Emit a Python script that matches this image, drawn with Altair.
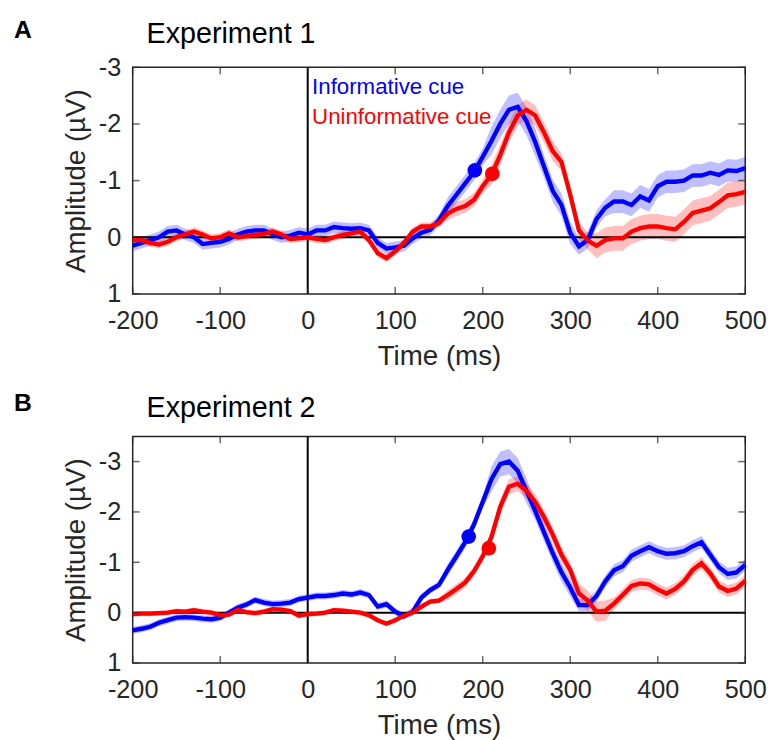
import altair as alt
import pandas as pd

# ---------------- data ----------------
time_ms = [-200, -190, -180, -170, -160, -150, -140, -130, -120, -110,
           -100, -90, -80, -70, -60, -50, -40, -30, -20, -10,
           0, 10, 20, 30, 40, 50, 60, 70, 80, 90,
           100, 110, 120, 130, 140, 150, 160, 170, 180, 190,
           200, 210, 220, 230, 240, 250, 260, 270, 280, 290,
           300, 310, 320, 330, 340, 350, 360, 370, 380, 390,
           400, 410, 420, 430, 440, 450, 460, 470, 480, 490,
           500]

exp1_info = [0.15, 0.10, 0.05, 0.00, -0.10, -0.12, -0.05, 0.00, 0.12, 0.10,
             0.08, 0.03, -0.05, -0.10, -0.12, -0.12, -0.05, 0.00, -0.03, -0.08,
             -0.05, -0.12, -0.12, -0.18, -0.16, -0.15, -0.16, -0.12, 0.10, 0.20,
             0.18, 0.15, 0.02, -0.08, -0.13, -0.30, -0.55, -0.75, -0.95, -1.15,
             -1.42, -1.70, -2.00, -2.25, -2.30, -2.05, -1.68, -1.25, -0.82, -0.57,
             -0.08, 0.16, 0.05, -0.32, -0.52, -0.63, -0.63, -0.57, -0.72, -0.65,
             -0.90, -0.98, -0.98, -1.00, -1.09, -1.09, -1.14, -1.10, -1.18, -1.17,
             -1.22]
exp1_info_sem = [0.10, 0.10, 0.10, 0.10, 0.10, 0.10, 0.10, 0.10, 0.10, 0.10,
                 0.10, 0.10, 0.10, 0.10, 0.10, 0.10, 0.10, 0.10, 0.10, 0.10,
                 0.10, 0.10, 0.10, 0.10, 0.10, 0.10, 0.10, 0.10, 0.10, 0.10,
                 0.10, 0.10, 0.10, 0.10, 0.10, 0.10, 0.15, 0.15, 0.15, 0.15,
                 0.15, 0.25, 0.25, 0.25, 0.25, 0.25, 0.25, 0.20, 0.20, 0.20,
                 0.20, 0.15, 0.15, 0.15, 0.15, 0.20, 0.20, 0.20, 0.20, 0.20,
                 0.20, 0.20, 0.20, 0.20, 0.20, 0.20, 0.20, 0.20, 0.20, 0.20,
                 0.20]

exp1_uninf = [0.05, 0.05, 0.10, 0.13, 0.08, 0.00, -0.05, -0.10, -0.05, 0.02,
              0.00, -0.07, 0.00, -0.02, -0.04, -0.06, -0.10, -0.05, 0.03, 0.02,
              0.00, 0.03, 0.05, 0.00, -0.04, -0.07, -0.10, 0.05, 0.28, 0.37,
              0.25, 0.10, -0.10, -0.19, -0.19, -0.25, -0.42, -0.50, -0.55, -0.66,
              -0.90, -1.10, -1.45, -1.85, -2.15, -2.25, -2.15, -1.85, -1.52, -1.33,
              -0.75, -0.12, 0.06, 0.15, 0.05, 0.02, 0.02, -0.10, -0.16, -0.19,
              -0.19, -0.16, -0.14, -0.27, -0.43, -0.47, -0.51, -0.62, -0.74, -0.76,
              -0.80]
exp1_uninf_sem = [0.07, 0.07, 0.07, 0.07, 0.07, 0.07, 0.07, 0.07, 0.07, 0.07,
                  0.07, 0.07, 0.07, 0.07, 0.07, 0.07, 0.07, 0.07, 0.07, 0.07,
                  0.07, 0.07, 0.07, 0.07, 0.07, 0.07, 0.07, 0.07, 0.07, 0.07,
                  0.07, 0.07, 0.07, 0.07, 0.07, 0.07, 0.12, 0.12, 0.12, 0.12,
                  0.12, 0.18, 0.18, 0.18, 0.18, 0.18, 0.18, 0.18, 0.18, 0.15,
                  0.15, 0.15, 0.15, 0.22, 0.22, 0.22, 0.22, 0.22, 0.22, 0.22,
                  0.22, 0.22, 0.22, 0.22, 0.22, 0.22, 0.22, 0.22, 0.22, 0.22,
                  0.22]

exp2_info = [0.35, 0.32, 0.28, 0.20, 0.15, 0.10, 0.09, 0.10, 0.12, 0.13,
             0.10, 0.00, -0.10, -0.16, -0.25, -0.20, -0.17, -0.18, -0.20, -0.27,
             -0.30, -0.33, -0.33, -0.35, -0.38, -0.36, -0.40, -0.35, -0.12, -0.17,
             -0.02, 0.07, -0.02, -0.30, -0.45, -0.55, -0.85, -1.12, -1.40, -1.75,
             -2.20, -2.65, -2.95, -3.00, -2.82, -2.42, -2.02, -1.60, -1.18, -0.80,
             -0.50, -0.15, -0.15, -0.33, -0.62, -0.84, -0.92, -1.13, -1.22, -1.30,
             -1.22, -1.17, -1.18, -1.22, -1.32, -1.40, -1.15, -0.90, -0.77, -0.80,
             -0.95]
exp2_info_sem = [0.07, 0.07, 0.07, 0.07, 0.07, 0.07, 0.07, 0.07, 0.07, 0.07,
                 0.07, 0.07, 0.07, 0.07, 0.07, 0.07, 0.07, 0.07, 0.07, 0.07,
                 0.07, 0.07, 0.07, 0.07, 0.07, 0.07, 0.07, 0.07, 0.07, 0.07,
                 0.07, 0.07, 0.07, 0.07, 0.07, 0.07, 0.12, 0.12, 0.12, 0.12,
                 0.12, 0.25, 0.25, 0.25, 0.25, 0.25, 0.18, 0.18, 0.18, 0.18,
                 0.18, 0.12, 0.12, 0.12, 0.12, 0.12, 0.12, 0.12, 0.12, 0.12,
                 0.12, 0.12, 0.12, 0.12, 0.12, 0.12, 0.12, 0.12, 0.12, 0.12,
                 0.12]

exp2_uninf = [0.03, 0.02, 0.02, 0.01, 0.00, -0.03, -0.02, -0.05, -0.02, 0.00,
              0.05, 0.04, -0.05, -0.01, 0.01, -0.02, -0.07, -0.06, -0.03, 0.06,
              0.03, 0.02, 0.00, -0.05, -0.04, -0.02, 0.00, 0.05, 0.15, 0.22,
              0.15, 0.06, 0.00, -0.12, -0.22, -0.24, -0.35, -0.47, -0.60, -0.82,
              -1.12, -1.50, -2.10, -2.50, -2.56, -2.42, -2.20, -1.90, -1.55, -1.15,
              -0.85, -0.38, -0.24, -0.02, -0.04, -0.18, -0.35, -0.53, -0.58, -0.56,
              -0.46, -0.38, -0.47, -0.62, -0.85, -0.98, -0.78, -0.52, -0.43, -0.48,
              -0.63]
exp2_uninf_sem = [0.05, 0.05, 0.05, 0.05, 0.05, 0.05, 0.05, 0.05, 0.05, 0.05,
                  0.05, 0.05, 0.05, 0.05, 0.05, 0.05, 0.05, 0.05, 0.05, 0.05,
                  0.05, 0.05, 0.05, 0.05, 0.05, 0.05, 0.05, 0.05, 0.05, 0.05,
                  0.05, 0.05, 0.05, 0.05, 0.05, 0.05, 0.10, 0.10, 0.10, 0.10,
                  0.10, 0.15, 0.15, 0.15, 0.15, 0.15, 0.15, 0.15, 0.15, 0.15,
                  0.15, 0.20, 0.20, 0.20, 0.20, 0.12, 0.12, 0.12, 0.12, 0.12,
                  0.12, 0.12, 0.12, 0.12, 0.12, 0.12, 0.12, 0.12, 0.12, 0.12,
                  0.12]

# onset markers (time, amplitude)
exp1_dots_t = [191, 211]
exp1_dots_v = [-1.18, -1.12]
exp2_dots_t = [184, 207]
exp2_dots_v = [-1.51, -1.28]

legend_labels = ["Informative cue", "Uninformative cue"]
legend_t = [5, 5]
legend_v = [-2.53, -2.0]

x_ticks = [-200, -100, 0, 100, 200, 300, 400, 500]
y_ticks = [-3, -2, -1, 0, 1]

# ---------------- style ----------------
FONT = "Liberation Sans"
INK = "#262626"
BLUE = "#0000ff"
RED = "#ff0000"
W, H = 619, 229


def make_panel(title, letter, info, info_sem, uninf, uninf_sem,
               dots_t, dots_v, y_domain, show_legend, title_y, letter_y):
    xs = alt.Scale(domain=[-200, 500], nice=False, zero=False)
    ys = alt.Scale(domain=y_domain, reverse=True, nice=False, zero=False)
    xax = alt.Axis(values=x_ticks, title="Time (ms)", labelExpr="'' + datum.value")
    yax = alt.Axis(values=y_ticks, title="Amplitude (µV)", labelExpr="'' + datum.value")

    def X(f):
        return alt.X(f, type="quantitative", scale=xs, axis=xax)

    def Y(f):
        return alt.Y(f, type="quantitative", scale=ys, axis=yax)

    df_i = pd.DataFrame({"t": time_ms, "v": info,
                         "lo": [a - b for a, b in zip(info, info_sem)],
                         "hi": [a + b for a, b in zip(info, info_sem)]})
    df_u = pd.DataFrame({"t": time_ms, "v": uninf,
                         "lo": [a - b for a, b in zip(uninf, uninf_sem)],
                         "hi": [a + b for a, b in zip(uninf, uninf_sem)]})

    band_i = alt.Chart(df_i).mark_area(color=BLUE, opacity=0.25).encode(
        x=X("t"), y=Y("lo"), y2="hi")
    band_u = alt.Chart(df_u).mark_area(color=RED, opacity=0.25).encode(
        x=X("t"), y=Y("lo"), y2="hi")

    zero_h = alt.Chart(pd.DataFrame({"v": [0]})).mark_rule(
        color="black", strokeWidth=2).encode(y=Y("v"))
    zero_v = alt.Chart(pd.DataFrame({"t": [0]})).mark_rule(
        color="black", strokeWidth=2).encode(x=X("t"))

    line_i = alt.Chart(df_i).mark_line(color=BLUE, strokeWidth=4.4).encode(
        x=X("t"), y=Y("v"))
    line_u = alt.Chart(df_u).mark_line(color=RED, strokeWidth=4.4).encode(
        x=X("t"), y=Y("v"))

    dots = alt.Chart(pd.DataFrame({"t": dots_t, "v": dots_v, "c": [BLUE, RED]})).mark_circle(
        size=220, opacity=1).encode(x=X("t"), y=Y("v"),
                                    color=alt.Color("c:N", scale=None))

    tick_common = dict(color=INK, thickness=1.5, size=7)
    xt_bot = alt.Chart(pd.DataFrame({"t": x_ticks, "v": [y_domain[1]] * len(x_ticks)})).mark_tick(
        orient="vertical", yOffset=-3.5, **tick_common).encode(x=X("t"), y=Y("v"))
    xt_top = alt.Chart(pd.DataFrame({"t": x_ticks, "v": [y_domain[0]] * len(x_ticks)})).mark_tick(
        orient="vertical", yOffset=3.5, **tick_common).encode(x=X("t"), y=Y("v"))
    yt_left = alt.Chart(pd.DataFrame({"t": [-200] * len(y_ticks), "v": y_ticks})).mark_tick(
        orient="horizontal", xOffset=3.5, **tick_common).encode(x=X("t"), y=Y("v"))
    yt_right = alt.Chart(pd.DataFrame({"t": [500] * len(y_ticks), "v": y_ticks})).mark_tick(
        orient="horizontal", xOffset=-3.5, **tick_common).encode(x=X("t"), y=Y("v"))

    letter_mark = alt.Chart(pd.DataFrame({"s": [letter]})).mark_text(
        align="left", baseline="alphabetic", font=FONT, fontSize=25,
        fontWeight="bold", color="black").encode(
        x=alt.value(-120), y=alt.value(letter_y), text="s:N")
    title_mark = alt.Chart(pd.DataFrame({"s": [title]})).mark_text(
        align="left", baseline="alphabetic", font=FONT, fontSize=29,
        color="black").encode(
        x=alt.value(14), y=alt.value(title_y), text="s:N")

    layers = [band_i, band_u, zero_h, zero_v, line_i, line_u, dots,
              xt_bot, xt_top, yt_left, yt_right, letter_mark, title_mark]

    if show_legend:
        leg = alt.Chart(pd.DataFrame({"t": legend_t, "v": legend_v,
                                      "label": legend_labels, "c": [BLUE, RED]})).mark_text(
            align="left", baseline="alphabetic", font=FONT, fontSize=22.5).encode(
            x=X("t"), y=Y("v"), text="label:N", color=alt.Color("c:N", scale=None))
        layers.append(leg)

    return alt.layer(*layers).properties(width=W, height=H)


panel_a = make_panel("Experiment 1", "A", exp1_info, exp1_info_sem,
                     exp1_uninf, exp1_uninf_sem, exp1_dots_t, exp1_dots_v,
                     [-3, 1], True, -25, -30)
panel_b = make_panel("Experiment 2", "B", exp2_info, exp2_info_sem,
                     exp2_uninf, exp2_uninf_sem, exp2_dots_t, exp2_dots_v,
                     [-3.5, 1], False, -20, -26)

chart = alt.vconcat(panel_a, panel_b, spacing=18).properties(
    padding={"left": 5, "top": 5, "right": 0, "bottom": 5},
    background="white",
).configure_view(
    stroke=INK, strokeWidth=1.5
).configure_axis(
    domain=False, ticks=False, tickSize=0, grid=False,
    labelFont=FONT, labelFontSize=25.5, labelColor=INK,
    labelFlush=False, labelOverlap=False,
    titleFont=FONT, titleFontSize=28, titleFontWeight="normal", titleColor=INK,
).configure_axisX(
    labelPadding=15, titlePadding=9
).configure_axisY(
    labelPadding=12, titlePadding=8
)

chart.save("out.html", embed_options={"renderer": "svg", "actions": False})
